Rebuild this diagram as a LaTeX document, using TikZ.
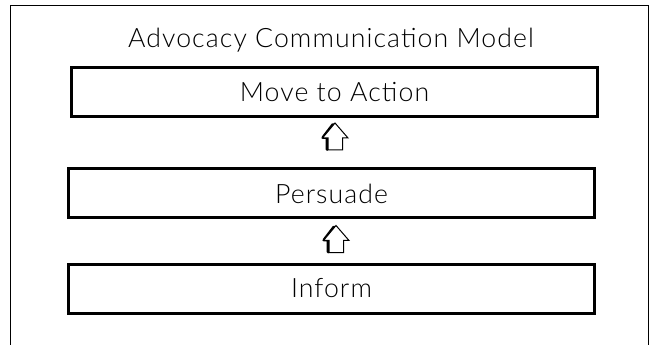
\documentclass[tikz,border=0pt]{standalone}
\usepackage{fontspec}
\newfontfamily\handfont[LetterSpace=4]{Lato Light}
\usetikzlibrary{positioning, calc}

\begin{document}
\begin{tikzpicture}[x=0.75pt, y=-0.75pt]
	\tikzset{
		stagebox/.style={draw, line width=2.25pt, minimum width=395pt, minimum height=36.75pt, inner sep=0pt, font=\handfont\fontsize{20}{22}\selectfont},
		frameline/.style={line width=0.75pt},
		upshadow/.style={line width=2.25pt, line cap=round, line join=round}
	}
	\useasboundingbox (0,0) rectangle (649,345);
	
	% frame
	\draw[frameline] (10,345) -- (10,6) -- (648.5,6) -- (648.5,345);
	
	% title
	\node[font=\handfont\fontsize{20}{22}\selectfont, anchor=base] (title) at (331,48) {Advocacy Communication Model};
	
	% stages
	\node[stagebox] (action) at (334.5,92.5) {Move to Action};
	\node[stagebox] (persuade) at (331.5,193.5) {Persuade};
	\node[stagebox] (inform) at (331.5,288.5) {Inform};
	
	% up arrows
	\coordinate (up1) at (335,136.5);
	\coordinate (up2) at (336,239);
	\foreach \c in {up1, up2} {
		\draw[upshadow] ($(\c)+(-2,-12)$) -- ($(\c)+(-12,1)$) -- ($(\c)+(-8,1)$) -- ($(\c)+(-8,13)$);
		\draw[line width=0.75pt, fill=white] ($(\c)+(0,-13.5)$) -- ($(\c)+(13,1.5)$) -- ($(\c)+(7.5,1.5)$) -- ($(\c)+(7.5,13.5)$)
			-- ($(\c)+(-7,13.5)$) -- ($(\c)+(-7,1.5)$) -- ($(\c)+(-12.5,1.5)$) -- cycle;
	}
\end{tikzpicture}
\end{document}
